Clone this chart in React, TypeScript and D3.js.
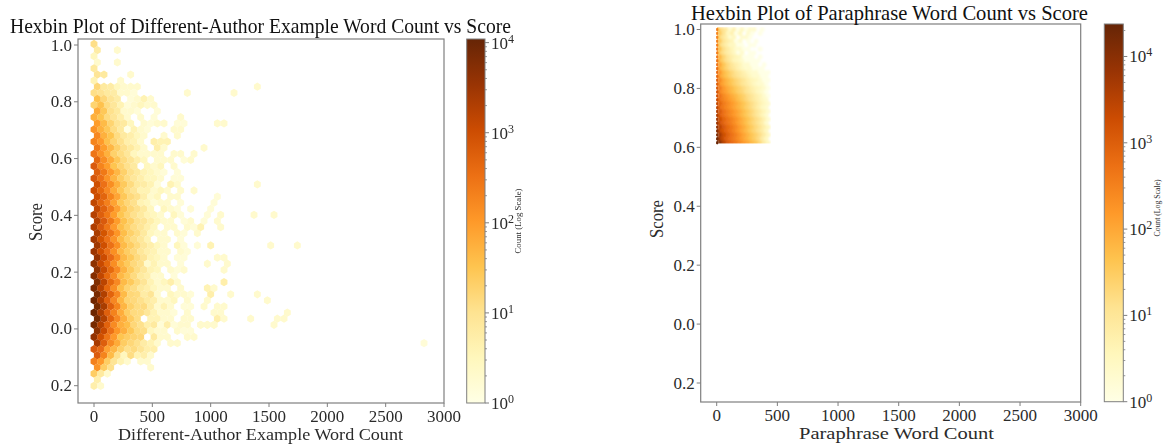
import React from "react";
import * as d3 from "d3";

// ---------- tick labels and text ----------
const xTicks = [0, 500, 1000, 1500, 2000, 2500, 3000];
const yTicks = [1.0, 0.8, 0.6, 0.4, 0.2, 0.0, -0.2];
const yTickLabels = ["1.0", "0.8", "0.6", "0.4", "0.2", "0.0", "0.2"];
const cbarExponents = [0, 1, 2, 3, 4];
const cbarMinor = [2, 3, 4, 5, 6, 7, 8, 9];

// ---------- left panel: counts per hex row, column by column (0 = empty) ----------
const authorRows: number[][] = [
  [12],
  [6, 0, 0, 2],
  [3],
  [2, 0, 0, 2],
  [7],
  [9, 7, 0, 0, 0, 2],
  [4, 0, 0, 0, 2],
  [16, 7, 6, 3, 2, 2, 2],
  [12, 10, 7, 6, 2, 2, 1.5],
  [35, 16, 9, 6, 0, 1.5, 2, 4, 2],
  [18, 35, 13, 8, 4, 1.5, 2, 3, 2, 2],
  [65, 28, 11, 7, 2, 2, 1.5, 0, 0, 1.5],
  [55, 32, 14, 9, 5, 2, 0, 2, 0, 1.5, 0, 0, 0, 2],
  [95, 42, 18, 9, 7, 3, 0, 2, 1.5, 2, 2, 0, 1.5, 1.5],
  [125, 55, 28, 13, 7, 1, 4, 2, 1.5, 0, 0, 0, 2, 2],
  [170, 55, 32, 13, 7, 5, 3, 2, 0, 0, 2, 0, 2],
  [190, 105, 36, 18, 11, 5, 4, 2, 0, 5, 4, 4],
  [260, 95, 46, 20, 11, 7, 4, 2, 0, 5, 2, 0, 0, 0, 0, 0, 2],
  [290, 125, 55, 20, 13, 8, 3, 2, 2, 2, 2, 0, 2, 2, 0, 2],
  [430, 145, 65, 28, 14, 9, 5, 3, 0, 2, 2, 2, 0, 1.5, 2],
  [680, 190, 95, 32, 18, 11, 7, 0, 3, 2, 3, 0, 2],
  [580, 260, 105, 46, 20, 11, 7, 4, 3, 2, 1.5, 0, 1.5],
  [780, 340, 125, 50, 23, 13, 8, 5, 3, 3, 2, 0, 1.5, 1.5],
  [950, 340, 145, 55, 26, 14, 7, 6, 4, 1.5, 0, 4, 2],
  [1050, 430, 170, 65, 28, 14, 9, 4, 4, 2, 3, 2, 0, 2, 0, 2],
  [1050, 480, 180, 75, 28, 15, 11, 5, 2, 3, 0, 2, 2],
  [1400, 480, 210, 80, 28, 16, 11, 4, 3, 1.5, 2, 2, 0, 1.5],
  [1350, 520, 230, 85, 30, 16, 11, 7, 3, 0, 3, 2, 1.5, 0, 1.5],
  [1800, 580, 260, 95, 32, 18, 11, 7, 4, 3, 2, 0, 3, 1.5],
  [1800, 680, 270, 95, 35, 20, 11, 9, 5, 3, 2, 2, 0, 1.5, 2],
  [2100, 720, 290, 105, 38, 22, 13, 9, 5, 3, 0, 2, 2, 0, 2, 1.5],
  [2300, 820, 310, 115, 38, 20, 13, 7, 3, 2, 2, 0, 2, 1.5, 0, 2],
  [2700, 870, 330, 125, 42, 20, 13, 8, 4, 0, 2, 2, 0, 1.5],
  [2900, 970, 350, 135, 42, 23, 14, 8, 5, 3, 2, 0, 3, 1.5, 0, 1.5],
  [3200, 970, 360, 135, 45, 23, 15, 8, 5, 4, 2, 2, 0, 2, 1.5],
  [3700, 1070, 390, 145, 45, 26, 14, 9, 4, 3, 2, 0, 1.5, 1.5],
  [4400, 1170, 420, 145, 48, 26, 15, 11, 2, 4, 2, 2, 0, 1.5],
  [4200, 1270, 410, 155, 52, 24, 13, 8, 4, 3, 0, 2, 1.5, 2],
  [5400, 1370, 420, 160, 45, 26, 14, 7, 5, 2, 2, 0, 1.5],
  [5900, 1570, 410, 165, 42, 26, 14, 9, 4, 2, 3, 5, 2],
  [6900, 1770, 440, 145, 38, 18, 13, 7, 5, 3, 2, 2, 0, 2],
  [6900, 1970, 490, 165, 42, 16, 14, 6, 9, 2, 0, 3, 2, 2, 1.5],
  [8900, 2170, 540, 175, 48, 18, 15, 11, 7, 5, 2, 2, 3, 0, 2],
  [7900, 2370, 540, 185, 48, 20, 13, 14, 6, 2, 4, 2, 0, 1.5, 1.5],
  [9400, 2270, 540, 195, 62, 23, 14, 13, 8, 4, 2, 2, 1.5, 0, 2],
  [7900, 1970, 490, 165, 58, 23, 13, 0, 4, 4, 2, 2, 0, 2, 2],
  [7400, 1970, 490, 155, 58, 38, 16, 11, 5, 7, 1.5, 5, 1.5, 2, 2, 0, 2, 2, 2],
  [4400, 1170, 340, 115, 58, 28, 14, 12, 3, 2, 2, 0, 2, 1.5, 1.5],
  [3900, 970, 290, 105, 32, 23, 18, 16, 0, 7, 2, 2, 0, 0, 2, 2],
  [2400, 580, 160, 65, 23, 16, 11, 6, 4, 2, 0, 2, 2],
  [680, 390, 85, 46, 20, 11, 14, 9, 5, 5],
  [630, 190, 42, 11, 3, 13, 4, 5, 2],
  [210, 105, 23, 9, 4, 2, 0, 2, 2],
  [125, 23, 11, 0, 0, 0, 0, 0, 2],
  [23, 7, 2],
  [5],
  [5, 2],
];
// isolated far-right hexes: [row, column, count]
const authorStrays: number[][] = [
  [7, 24, 2], [8, 14, 2], [8, 21, 2], [13, 18, 2], [13, 19, 2], [23, 24, 2],
  [25, 18, 1.5], [26, 18, 1.5], [27, 17, 1.5], [28, 17, 1.5], [28, 19, 2], [28, 24, 2],
  [28, 27, 2], [29, 16, 1.5], [29, 18, 2], [30, 16, 4], [30, 19, 2], [33, 17, 4],
  [33, 26, 2], [33, 30, 2], [35, 18, 2], [35, 19, 2], [36, 17, 2], [36, 20, 2],
  [37, 19, 2], [39, 19, 5], [40, 17, 4], [40, 18, 2], [41, 17, 5], [41, 20, 2],
  [41, 24, 2], [42, 17, 2], [42, 26, 2], [43, 16, 2], [43, 18, 2], [43, 19, 2],
  [44, 18, 2], [44, 19, 2], [44, 29, 2], [45, 18, 5], [45, 19, 2], [45, 23, 2],
  [45, 27, 2], [45, 28, 2], [46, 27, 2], [46, 16, 2], [46, 17, 2], [46, 18, 2],
  [49, 49, 1.5],
];

// ---------- right panel: counts, read at a coarser grid than the fine hexes ----------
const paraphraseRows: number[][] = [
  [45, 14, 8, 2, 5, 1, 3, 1, 2, 2, 0, 1, 0],
  [30, 11, 3, 5, 1, 3, 0, 2, 1, 0, 1, 0, 0],
  [32, 12, 6, 2, 3, 0, 2, 2, 1, 0, 0, 0, 0],
  [34, 11, 6, 4, 1, 2, 0, 1, 0, 1, 0, 0, 0],
  [40, 12, 6, 3, 3, 1, 1, 0, 1, 1, 0, 0, 0],
  [42, 14, 7, 4, 2, 2, 1, 1, 0, 0, 1, 0, 0],
  [50, 16, 8, 5, 3, 1, 2, 0, 1, 1, 0, 0, 0],
  [65, 22, 10, 6, 4, 3, 1, 1, 1, 0, 1, 0, 0],
  [85, 30, 14, 8, 4, 3, 2, 1, 1, 1, 1, 0, 0],
  [105, 38, 18, 10, 6, 4, 2, 2, 1, 1, 0, 1, 0],
  [135, 50, 25, 14, 9, 5, 3, 2, 2, 1, 1, 1, 0],
  [170, 60, 34, 20, 12, 8, 5, 3, 2, 2, 1, 1, 1],
  [210, 78, 44, 26, 16, 11, 7, 5, 3, 2, 2, 1, 1],
  [260, 100, 58, 36, 22, 15, 10, 6, 4, 3, 2, 1, 1],
  [320, 125, 72, 46, 28, 19, 12, 8, 5, 3, 2, 2, 1],
  [390, 155, 88, 58, 36, 24, 16, 10, 6, 4, 3, 2, 1],
  [450, 195, 118, 72, 46, 28, 20, 12, 8, 5, 3, 2, 1],
  [540, 245, 150, 92, 60, 36, 25, 15, 10, 6, 4, 2, 1],
  [690, 340, 215, 135, 88, 52, 33, 20, 13, 8, 5, 3, 2],
  [840, 390, 245, 155, 100, 62, 40, 24, 15, 9, 5, 3, 2],
  [980, 440, 275, 180, 115, 72, 46, 28, 18, 11, 6, 3, 2],
  [1280, 540, 325, 210, 135, 85, 52, 32, 20, 12, 7, 4, 2],
  [1580, 640, 375, 245, 155, 98, 58, 36, 23, 14, 8, 4, 2],
  [1980, 790, 460, 300, 185, 112, 68, 42, 26, 16, 10, 5, 2],
  [2450, 980, 570, 360, 225, 130, 80, 48, 28, 18, 11, 6, 2],
  [3150, 1220, 670, 420, 260, 145, 90, 52, 31, 19, 12, 6, 3],
  [3950, 1480, 790, 490, 295, 165, 98, 58, 34, 21, 13, 7, 3],
  [5400, 1880, 890, 540, 335, 190, 112, 68, 40, 25, 15, 7, 3],
  [7900, 2380, 990, 590, 375, 220, 132, 82, 48, 30, 17, 7, 3],
  [11800, 2950, 1090, 640, 415, 245, 148, 98, 58, 38, 19, 7, 3],
];
// left-most fine column of the right panel, top to bottom
const paraphraseEdge = [
  320, 280, 280, 300, 320, 340, 360, 400, 440, 480, 540, 620, 700, 800, 950,
  1100, 1300, 1550, 1850, 2250, 2750, 3300, 4000, 5000, 6200, 8000, 10000, 13000, 17000, 22000,
];

// ---------- shared helpers ----------
const FONT = "'Liberation Serif', serif";
const GRAY = "#7f7f7f";
const INK = "#2b2b2b";
const stops = d3.schemeYlOrBr[9];

function makeColor(max: number) {
  const t = d3.scaleLog().domain([1, max]).range([0, 1]).clamp(true);
  const ramp = d3.piecewise(d3.interpolateRgb, stops as string[]);
  return (v: number) => ramp(t(v));
}

function hexPath(w: number, h: number) {
  const p: [number, number][] = [
    [0, -h / 3], [w / 2, -h / 6], [w / 2, h / 6], [0, h / 3], [-w / 2, h / 6], [-w / 2, -h / 6],
  ];
  return (d3.line()(p) ?? "") + "Z";
}

type PanelProps = {
  id: string;
  box: { l: number; r: number; t: number; b: number };
  x: d3.ScaleLinear<number, number>;
  y: d3.ScaleLinear<number, number>;
  title: string; titleBox: [number, number]; titleY: number;
  xlabel: string; xlabelBox: [number, number];
  ylabelX: number; ylabelY: number;
  bar: { l: number; r: number; t: number; b: number; max: number; labelX: number; labelY: number; labelLen: number };
  children: React.ReactNode;
};

function Panel({ id, box, x, y, title, titleBox, titleY, xlabel, xlabelBox, ylabelX, ylabelY, bar, children }: PanelProps) {
  const cbar = d3.scaleLog().domain([1, bar.max]).range([bar.b, bar.t]);
  const gradStops = d3.range(0, 1.0001, 0.125);
  const minor: number[] = [];
  cbarExponents.forEach((e) =>
    cbarMinor.forEach((m) => {
      const v = m * Math.pow(10, e);
      if (v <= bar.max) minor.push(v);
    })
  );
  return (
    <g fontFamily={FONT}>
      <defs>
        <linearGradient id={`grad-${id}`} x1="0" x2="0" y1="1" y2="0">
          {gradStops.map((s, i) => (
            <stop key={i} offset={s} stopColor={stops[i]} />
          ))}
        </linearGradient>
      </defs>
      {children}
      <rect x={box.l} y={box.t} width={box.r - box.l} height={box.b - box.t} fill="none" stroke={GRAY} strokeWidth={1.2} />
      {xTicks.map((t) => (
        <g key={t}>
          <line x1={x(t)} x2={x(t)} y1={box.b} y2={box.b + 4} stroke={GRAY} />
          <text x={x(t)} y={box.b + 19} textAnchor="middle" fontSize={17} fill={INK}>{t}</text>
        </g>
      ))}
      {yTicks.map((t, i) => (
        <g key={i}>
          <line x1={box.l - 4} x2={box.l} y1={y(t)} y2={y(t)} stroke={GRAY} />
          <text x={box.l - 6} y={y(t) + 5.5} textAnchor="end" fontSize={17} fill={INK}>{yTickLabels[i]}</text>
        </g>
      ))}
      <text x={titleBox[0]} y={titleY} fontSize={21} fill="#111"
        textLength={titleBox[1] - titleBox[0]} lengthAdjust="spacingAndGlyphs">{title}</text>
      <text x={xlabelBox[0]} y={box.b + 37} fontSize={17} fill={INK}
        textLength={xlabelBox[1] - xlabelBox[0]} lengthAdjust="spacingAndGlyphs">{xlabel}</text>
      <text transform={`translate(${ylabelX},${ylabelY}) rotate(-90)`} textAnchor="middle" fontSize={19} fill={INK}
        textLength={38} lengthAdjust="spacingAndGlyphs">Score</text>

      <rect x={bar.l} y={bar.t} width={bar.r - bar.l} height={bar.b - bar.t} fill={`url(#grad-${id})`} stroke={GRAY} strokeWidth={1} />
      {minor.map((v) => (
        <line key={v} x1={bar.r} x2={bar.r + 2} y1={cbar(v)} y2={cbar(v)} stroke={GRAY} strokeWidth={0.8} />
      ))}
      {cbarExponents.map((e) => {
        const v = Math.pow(10, e);
        return (
          <g key={e}>
            <line x1={bar.r} x2={bar.r + 4} y1={cbar(v)} y2={cbar(v)} stroke={GRAY} />
            <text x={bar.r + 6} y={cbar(v) + 6} fontSize={17} fill={INK}>
              10<tspan dy={-6} fontSize={12}>{e}</tspan>
            </text>
          </g>
        );
      })}
      <text transform={`translate(${bar.labelX},${bar.labelY}) rotate(-90)`} textAnchor="middle" fontSize={8.5} fill={INK}
        textLength={bar.labelLen} lengthAdjust="spacingAndGlyphs">
        Count (Log Scale)
      </text>
    </g>
  );
}

export default function App() {
  // left panel
  const boxA = { l: 78, r: 444, t: 39, b: 403 };
  const xA = d3.scaleLinear().domain([0, 3000]).range([94, 444]);
  const yA = d3.scaleLinear().domain([1.0, -0.2]).range([45, 385.7]);
  const colorA = makeColor(10970);
  const binWA = 57.15; // words per column
  const binSA = 0.0215; // score per row
  const scoreStartA = 1.0035;
  const hexW = xA(binWA) - xA(0);
  const hexH = 2 * (yA(1 - binSA) - yA(1));
  const pathA = hexPath(hexW + 0.2, hexH + 0.2);
  const cellsA: { r: number; c: number; v: number }[] = [];
  authorRows.forEach((row, r) => row.forEach((v, c) => { if (v > 0) cellsA.push({ r, c, v }); }));
  authorStrays.forEach(([r, c, v]) => cellsA.push({ r, c, v }));

  // right panel
  const boxB = { l: 700.7, r: 1080.7, t: 24, b: 402 };
  const xB = d3.scaleLinear().domain([0, 3000]).range([716.7, 1080.7]);
  const yB = d3.scaleLinear().domain([1.0, -0.2]).range([29.5, 383]);
  const colorB = makeColor(23800);
  const binWB = 33; // words per coarse column
  const binSB = 0.01325; // score per coarse row
  const hexWB = xB(binWB) - xB(0);
  const hexHB = 2 * (yB(1 - binSB) - yB(1));
  const pathB = hexPath(hexWB + 0.6, hexHB + 0.6);
  const pathEdge = hexPath(2.2, 5.6);

  return (
    <svg width={1168} height={448} style={{ position: "absolute", left: 0, top: 0, background: "#fff" }}>
      <defs>
        <filter id="soft" x="-5%" y="-5%" width="110%" height="110%">
          <feGaussianBlur stdDeviation={0.45} />
        </filter>
        <filter id="softer" x="-5%" y="-5%" width="110%" height="110%">
          <feGaussianBlur stdDeviation={1} />
        </filter>
        <clipPath id="clipB">
          <rect x={717} y={27} width={54} height={116.5} />
        </clipPath>
      </defs>
      <Panel id="a" box={boxA} x={xA} y={yA}
        title="Hexbin Plot of Different-Author Example Word Count vs Score" titleBox={[10, 511]} titleY={33}
        xlabel="Different-Author Example Word Count" xlabelBox={[118, 403]}
        ylabelX={42} ylabelY={222}
        bar={{ l: 466.7, r: 485, t: 39, b: 403, max: 10970, labelX: 521, labelY: 221, labelLen: 65 }}>
        <g filter="url(#soft)">
          {cellsA.map((d, i) => (
            <path key={i} d={pathA} fill={colorA(d.v)}
              transform={`translate(${xA((d.c + (d.r % 2 ? 0.5 : 0)) * binWA)},${yA(scoreStartA - d.r * binSA)})`} />
          ))}
        </g>
      </Panel>
      <Panel id="b" box={boxB} x={xB} y={yB}
        title="Hexbin Plot of Paraphrase Word Count vs Score" titleBox={[691, 1088]} titleY={19.5}
        xlabel="Paraphrase Word Count" xlabelBox={[799, 994]}
        ylabelX={663} ylabelY={219}
        bar={{ l: 1104.3, r: 1123.3, t: 24, b: 401.7, max: 23800, labelX: 1160, labelY: 208, labelLen: 57 }}>
        <g clipPath="url(#clipB)">
          <g filter="url(#softer)">
            {paraphraseRows.flatMap((row, r) =>
              row.map((v, c) =>
                v > 0 ? (
                  <path key={`${r}-${c}`} d={pathB} fill={colorB(v)}
                    transform={`translate(${xB((c + 0.6 + (r % 2 ? 0.25 : -0.25)) * binWB)},${yB(1 - r * binSB)})`} />
                ) : null
              )
            )}
          </g>
        </g>
        {paraphraseEdge.map((v, r) => (
          <path key={r} d={pathEdge} fill={colorB(v)} transform={`translate(${xB(4)},${yB(1 - r * binSB)})`} />
        ))}
      </Panel>
    </svg>
  );
}
